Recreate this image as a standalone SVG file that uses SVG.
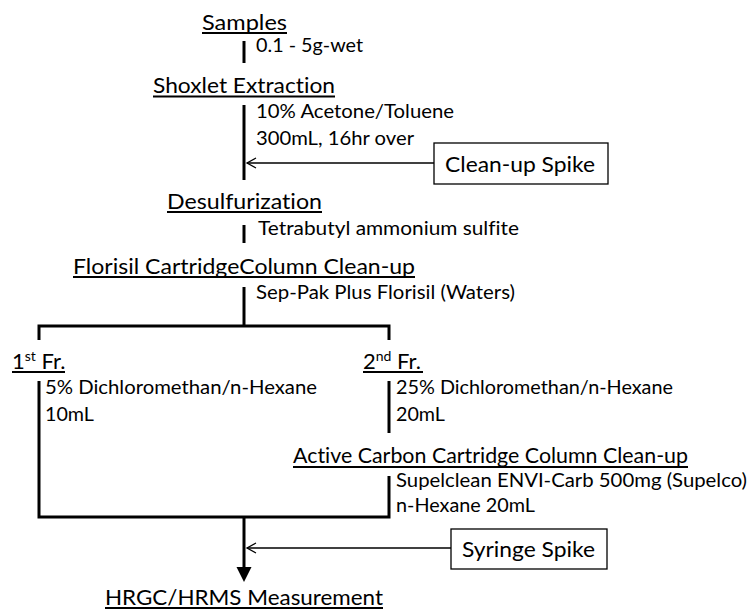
<svg xmlns="http://www.w3.org/2000/svg" width="751" height="611" viewBox="0 0 751 611">
<defs>
<style>
text{font-family:Lato,"Liberation Sans",sans-serif;fill:#000;font-variant-ligatures:none;font-feature-settings:"liga" 0}
.h{font-size:22px}
.s{font-size:19.5px}
.b{font-size:22px}
.ul{stroke:#000;stroke-width:1.8;fill:none}
.thick{stroke:#000;stroke-width:3;fill:none}
.thin{stroke:#000;stroke-width:1.3;fill:none}
.box{stroke:#000;stroke-width:1.3;fill:#fff}
</style>
<marker id="open" markerWidth="12" markerHeight="12" refX="10" refY="6" orient="auto" markerUnits="userSpaceOnUse">
<path d="M1,1 L10,6 L1,11" fill="none" stroke="#000" stroke-width="1.3"/>
</marker>
</defs>
<rect width="751" height="611" fill="#fff"/>

<g id="connectors">
<line class="thick" x1="244" y1="41" x2="244" y2="63"/>
<line class="thick" x1="244" y1="105" x2="244" y2="180"/>
<line class="thick" x1="244" y1="225" x2="244" y2="243"/>
<line class="thick" x1="244" y1="287" x2="244" y2="326"/>
<polyline class="thick" points="39,340 39,326 389,326 389,340"/>
<polyline class="thick" points="39,381 39,517 389,517 389,476"/>
<line class="thick" x1="389" y1="381" x2="389" y2="433"/>
<line class="thick" x1="244" y1="517" x2="244" y2="568"/>
<polygon points="236.5,567 251.5,567 244,582" fill="#000"/>
<line class="thin" x1="434" y1="163" x2="247" y2="163" marker-end="url(#open)"/>
<line class="thin" x1="451" y1="548" x2="247" y2="548" marker-end="url(#open)"/>
</g>

<g id="samples">
<text class="h" x="202" y="30" textLength="85" lengthAdjust="spacingAndGlyphs">Samples</text>
<line class="ul" x1="202" y1="33" x2="287" y2="33"/>
<text class="s" x="256" y="52" textLength="107" lengthAdjust="spacingAndGlyphs">0.1 - 5g-wet</text>
</g>

<g id="soxhlet">
<text class="h" x="153" y="93" textLength="182" lengthAdjust="spacingAndGlyphs">Shoxlet Extraction</text>
<line class="ul" x1="153" y1="96.5" x2="335" y2="96.5"/>
<text class="s" x="256" y="118" textLength="198" lengthAdjust="spacingAndGlyphs">10% Acetone/Toluene</text>
<text class="s" x="256" y="145" textLength="158" lengthAdjust="spacingAndGlyphs">300mL, 16hr over</text>
</g>

<g id="cleanup-spike">
<rect class="box" x="434" y="143" width="174" height="41"/>
<text class="b" x="445" y="172" textLength="150" lengthAdjust="spacingAndGlyphs">Clean-up Spike</text>
</g>

<g id="desulfurization">
<text class="h" x="167" y="209" textLength="155" lengthAdjust="spacingAndGlyphs">Desulfurization</text>
<line class="ul" x1="167" y1="212" x2="322" y2="212"/>
<text class="s" x="258" y="235" textLength="261" lengthAdjust="spacingAndGlyphs">Tetrabutyl ammonium sulfite</text>
</g>

<g id="florisil">
<text class="h" x="73" y="274" textLength="342" lengthAdjust="spacingAndGlyphs">Florisil CartridgeColumn Clean-up</text>
<line class="ul" x1="73" y1="277" x2="415" y2="277"/>
<text class="s" x="256" y="299" textLength="259" lengthAdjust="spacingAndGlyphs">Sep-Pak Plus Florisil (Waters)</text>
</g>

<g id="fr1">
<text class="h" x="12" y="369">1<tspan font-size="14" dy="-8">st</tspan><tspan dy="8"> Fr.</tspan></text>
<line class="ul" x1="12" y1="372" x2="65" y2="372"/>
<text class="s" x="45" y="394" textLength="272" lengthAdjust="spacingAndGlyphs">5% Dichloromethan/n-Hexane</text>
<text class="s" x="45" y="421" textLength="49" lengthAdjust="spacingAndGlyphs">10mL</text>
</g>

<g id="fr2">
<text class="h" x="363" y="369">2<tspan font-size="14" dy="-8">nd</tspan><tspan dy="8"> Fr.</tspan></text>
<line class="ul" x1="363" y1="372" x2="423" y2="372"/>
<text class="s" x="396" y="394" textLength="277" lengthAdjust="spacingAndGlyphs">25% Dichloromethan/n-Hexane</text>
<text class="s" x="396" y="421" textLength="49" lengthAdjust="spacingAndGlyphs">20mL</text>
</g>

<g id="active-carbon">
<text class="h" x="293" y="463" textLength="395" lengthAdjust="spacingAndGlyphs">Active Carbon Cartridge Column Clean-up</text>
<line class="ul" x1="293" y1="467" x2="688" y2="467"/>
<text class="s" x="396" y="487" textLength="351" lengthAdjust="spacingAndGlyphs">Supelclean ENVI-Carb 500mg (Supelco)</text>
<text class="s" x="396" y="512" textLength="139" lengthAdjust="spacingAndGlyphs">n-Hexane 20mL</text>
</g>

<g id="syringe-spike">
<rect class="box" x="451" y="529" width="156" height="40"/>
<text class="b" x="462" y="557" textLength="133" lengthAdjust="spacingAndGlyphs">Syringe Spike</text>
</g>

<g id="hrgc">
<text class="h" x="105" y="605" textLength="278" lengthAdjust="spacingAndGlyphs">HRGC/HRMS Measurement</text>
<line class="ul" x1="105" y1="608" x2="383" y2="608"/>
</g>
</svg>
